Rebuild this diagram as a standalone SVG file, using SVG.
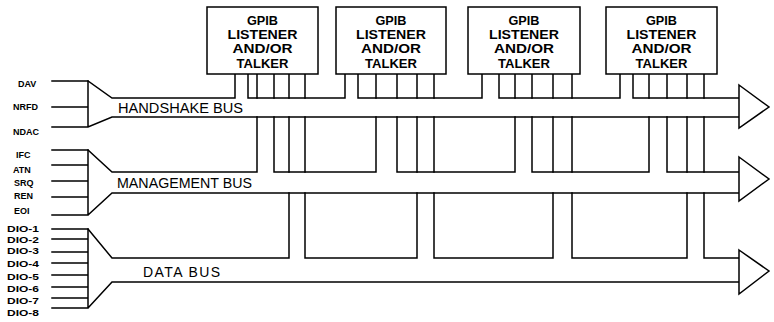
<svg xmlns="http://www.w3.org/2000/svg" width="774" height="322" viewBox="0 0 774 322">
<style>
.ln{fill:none;stroke:#000;stroke-width:1.5;stroke-linejoin:miter;stroke-linecap:square}
.box{fill:#fff;stroke:#000;stroke-width:1.5}
.arr{fill:#fff;stroke:#000;stroke-width:1.5;stroke-linejoin:miter}
.bt{font-family:"Liberation Sans",Arial,sans-serif;font-size:12.5px;font-weight:bold;text-anchor:middle;fill:#000}
.bus{font-family:"Liberation Sans",Arial,sans-serif;font-size:14px;fill:#000}
.sig{font-family:"Liberation Sans",Arial,sans-serif;font-size:9px;font-weight:bold;fill:#000}
</style>
<rect width="774" height="322" fill="#fff"/>
<g id="connectors">
  <!-- handshake bus -->
  <path class="ln" d="M52,81 H88 L112,98 H235 V74 M248,74 V98 H345 V74 M358,74 V98 H482 V74 M499,74 V98 H620 V74 M633,74 V98 H739"/>
  <path class="ln" d="M88,81 V127 M52,107 H88 M52,127 H88 L112,117 H739"/>
  <path class="ln" d="M257,74 V98 M274,74 V98 M289,74 V98 M305,74 V98 M376,74 V98 M397,74 V98 M417,74 V98 M434,74 V98 M515,74 V98 M532,74 V98 M553,74 V98 M572,74 V98 M649,74 V98 M667,74 V98 M687,74 V98 M704,74 V98"/>
  <!-- management bus -->
  <path class="ln" d="M52,150 H88 L112,172 H257 V117 M274,117 V172 H376 V117 M397,117 V172 H515 V117 M532,117 V172 H649 V117 M667,117 V172 H739"/>
  <path class="ln" d="M88,150 V215 M52,165 H88 M52,181 H88 M52,197 H88 M52,215 H88 L112,193 H739"/>
  <path class="ln" d="M289,117 V172 M305,117 V172 M417,117 V172 M434,117 V172 M553,117 V172 M572,117 V172 M687,117 V172 M704,117 V172"/>
  <!-- data bus -->
  <path class="ln" d="M52,229 H88 L112,258 H289 V193 M305,193 V258 H417 V193 M434,193 V258 H553 V193 M572,193 V258 H687 V193 M704,193 V258 H739"/>
  <path class="ln" d="M88,229 V308 M52,239 H88 M52,252 H88 M52,263 H88 M52,275 H88 M52,287 H88 M52,298 H88 M52,308 H88 L112,282 H739"/>
  <!-- arrowheads -->
  <polygon class="arr" points="739,85 769,107 739,128"/>
  <polygon class="arr" points="739,157 769,179 739,201"/>
  <polygon class="arr" points="739,250 769,271 739,294"/>
</g>
<g id="bus-labels">
  <text class="bus" x="118" y="113" textLength="125" lengthAdjust="spacingAndGlyphs">HANDSHAKE BUS</text>
  <text class="bus" x="117" y="188" textLength="135" lengthAdjust="spacingAndGlyphs">MANAGEMENT BUS</text>
  <text class="bus" x="143" y="277" textLength="77" lengthAdjust="spacing">DATA BUS</text>
</g>
<g id="signal-labels">
  <text class="sig" x="18" y="87">DAV</text>
  <text class="sig" x="13" y="110">NRFD</text>
  <text class="sig" x="13" y="135">NDAC</text>
  <text class="sig" x="16" y="158">IFC</text>
  <text class="sig" x="13" y="173">ATN</text>
  <text class="sig" x="14" y="186">SRQ</text>
  <text class="sig" x="14" y="199">REN</text>
  <text class="sig" x="14" y="214">EOI</text>
  <text class="sig" x="7" y="232" textLength="32" lengthAdjust="spacingAndGlyphs">DIO-1</text>
  <text class="sig" x="7" y="243" textLength="32" lengthAdjust="spacingAndGlyphs">DIO-2</text>
  <text class="sig" x="7" y="254" textLength="32" lengthAdjust="spacingAndGlyphs">DIO-3</text>
  <text class="sig" x="7" y="267" textLength="32" lengthAdjust="spacingAndGlyphs">DIO-4</text>
  <text class="sig" x="7" y="280" textLength="32" lengthAdjust="spacingAndGlyphs">DIO-5</text>
  <text class="sig" x="7" y="292" textLength="32" lengthAdjust="spacingAndGlyphs">DIO-6</text>
  <text class="sig" x="7" y="304" textLength="32" lengthAdjust="spacingAndGlyphs">DIO-7</text>
  <text class="sig" x="7" y="316" textLength="32" lengthAdjust="spacingAndGlyphs">DIO-8</text>
</g>
<g id="node1">
  <rect class="box" x="207" y="7" width="111" height="67"/>
  <text class="bt" x="262.5" y="25" textLength="31" lengthAdjust="spacingAndGlyphs">GPIB</text>
  <text class="bt" x="262.5" y="39" textLength="70" lengthAdjust="spacingAndGlyphs">LISTENER</text>
  <text class="bt" x="262.5" y="53" textLength="60" lengthAdjust="spacingAndGlyphs">AND/OR</text>
  <text class="bt" x="262.5" y="68" textLength="52" lengthAdjust="spacingAndGlyphs">TALKER</text>
</g>
<g id="node2">
  <rect class="box" x="336" y="7" width="110" height="67"/>
  <text class="bt" x="391" y="25" textLength="31" lengthAdjust="spacingAndGlyphs">GPIB</text>
  <text class="bt" x="391" y="39" textLength="70" lengthAdjust="spacingAndGlyphs">LISTENER</text>
  <text class="bt" x="391" y="53" textLength="60" lengthAdjust="spacingAndGlyphs">AND/OR</text>
  <text class="bt" x="391" y="68" textLength="52" lengthAdjust="spacingAndGlyphs">TALKER</text>
</g>
<g id="node3">
  <rect class="box" x="468" y="7" width="112" height="67"/>
  <text class="bt" x="524" y="25" textLength="31" lengthAdjust="spacingAndGlyphs">GPIB</text>
  <text class="bt" x="524" y="39" textLength="70" lengthAdjust="spacingAndGlyphs">LISTENER</text>
  <text class="bt" x="524" y="53" textLength="60" lengthAdjust="spacingAndGlyphs">AND/OR</text>
  <text class="bt" x="524" y="68" textLength="52" lengthAdjust="spacingAndGlyphs">TALKER</text>
</g>
<g id="node4">
  <rect class="box" x="606" y="7" width="111" height="67"/>
  <text class="bt" x="661.5" y="25" textLength="31" lengthAdjust="spacingAndGlyphs">GPIB</text>
  <text class="bt" x="661.5" y="39" textLength="70" lengthAdjust="spacingAndGlyphs">LISTENER</text>
  <text class="bt" x="661.5" y="53" textLength="60" lengthAdjust="spacingAndGlyphs">AND/OR</text>
  <text class="bt" x="661.5" y="68" textLength="52" lengthAdjust="spacingAndGlyphs">TALKER</text>
</g>
</svg>
